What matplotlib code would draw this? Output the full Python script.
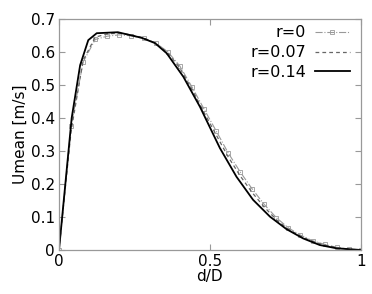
import matplotlib
matplotlib.use("Agg")
import matplotlib.pyplot as plt
from matplotlib.ticker import FuncFormatter

# r = 0 (dash-dot, square markers)
x_r0 = [0.0, 0.04, 0.08, 0.12, 0.16, 0.20, 0.24, 0.28, 0.32, 0.36, 0.40, 0.44, 0.48,
        0.52, 0.56, 0.60, 0.64, 0.68, 0.72, 0.76, 0.80, 0.84, 0.88, 0.92, 0.96, 1.0]
y_r0 = [0.0, 0.375, 0.57, 0.638, 0.648, 0.652, 0.649, 0.641, 0.628, 0.601, 0.558, 0.495,
        0.428, 0.362, 0.295, 0.237, 0.185, 0.138, 0.098, 0.067, 0.045, 0.028, 0.017,
        0.008, 0.003, 0.0]

# r = 0.07 (dashed)
x_r07 = [0.0, 0.04, 0.08, 0.12, 0.16, 0.20, 0.24, 0.28, 0.32, 0.36, 0.40, 0.44, 0.48,
         0.52, 0.56, 0.60, 0.64, 0.68, 0.72, 0.76, 0.80, 0.84, 0.88, 0.92, 0.96, 1.0]
y_r07 = [0.0, 0.36, 0.575, 0.645, 0.655, 0.657, 0.652, 0.643, 0.627, 0.598, 0.552, 0.488,
         0.418, 0.35, 0.283, 0.225, 0.174, 0.13, 0.092, 0.063, 0.042, 0.026, 0.015,
         0.007, 0.002, 0.0]

# r = 0.14 (solid)
x_r14 = [0.0, 0.042, 0.070, 0.097, 0.125, 0.195, 0.274, 0.318, 0.357, 0.412, 0.467,
         0.533, 0.588, 0.643, 0.699, 0.754, 0.809, 0.864, 0.92, 1.0]
y_r14 = [0.0, 0.40, 0.56, 0.636, 0.657, 0.66, 0.643, 0.627, 0.596, 0.525, 0.434,
         0.309, 0.222, 0.152, 0.101, 0.063, 0.035, 0.015, 0.005, 0.0]

labels = ["r=0", "r=0.07", "r=0.14"]
x_ticks = [0, 0.5, 1]
y_ticks = [0, 0.1, 0.2, 0.3, 0.4, 0.5, 0.6, 0.7]

fig = plt.figure(figsize=(3.72, 2.94), dpi=100)
ax = fig.add_axes([0.1586, 0.1497, 0.8114, 0.7856])

ax.plot(x_r0, y_r0, color="#999999", linestyle="-.", linewidth=0.8,
        marker="s", markersize=2.8, markerfacecolor="none", markeredgewidth=0.6,
        label=labels[0])
ax.plot(x_r07, y_r07, color="#666666", linestyle=(0, (3, 2.5)), linewidth=0.9,
        label=labels[1])
ax.plot(x_r14, y_r14, color="black", linestyle="-", linewidth=1.3, label=labels[2])

ax.set_xlim(0, 1)
ax.set_ylim(0, 0.7)
ax.set_xticks(x_ticks)
ax.set_yticks(y_ticks)
fmt = FuncFormatter(lambda v, p: "%g" % round(v, 3))
ax.xaxis.set_major_formatter(fmt)
ax.yaxis.set_major_formatter(fmt)
ax.tick_params(direction="in", top=True, right=True, length=4, width=0.8,
               color="#999999", labelsize=11, pad=3)
for s in ax.spines.values():
    s.set_color("#999999")
    s.set_linewidth(0.9)

ax.set_xlabel("d/D", fontsize=11, labelpad=0)
ax.set_ylabel("Umean [m/s]", fontsize=11, labelpad=2)

ax.legend(loc="upper right", frameon=False, markerfirst=False, fontsize=11.5,
          handlelength=2.2, handletextpad=0.55, labelspacing=0.3,
          borderaxespad=0.0, bbox_to_anchor=(0.985, 1.0))

fig.savefig("out.png", dpi=100)
